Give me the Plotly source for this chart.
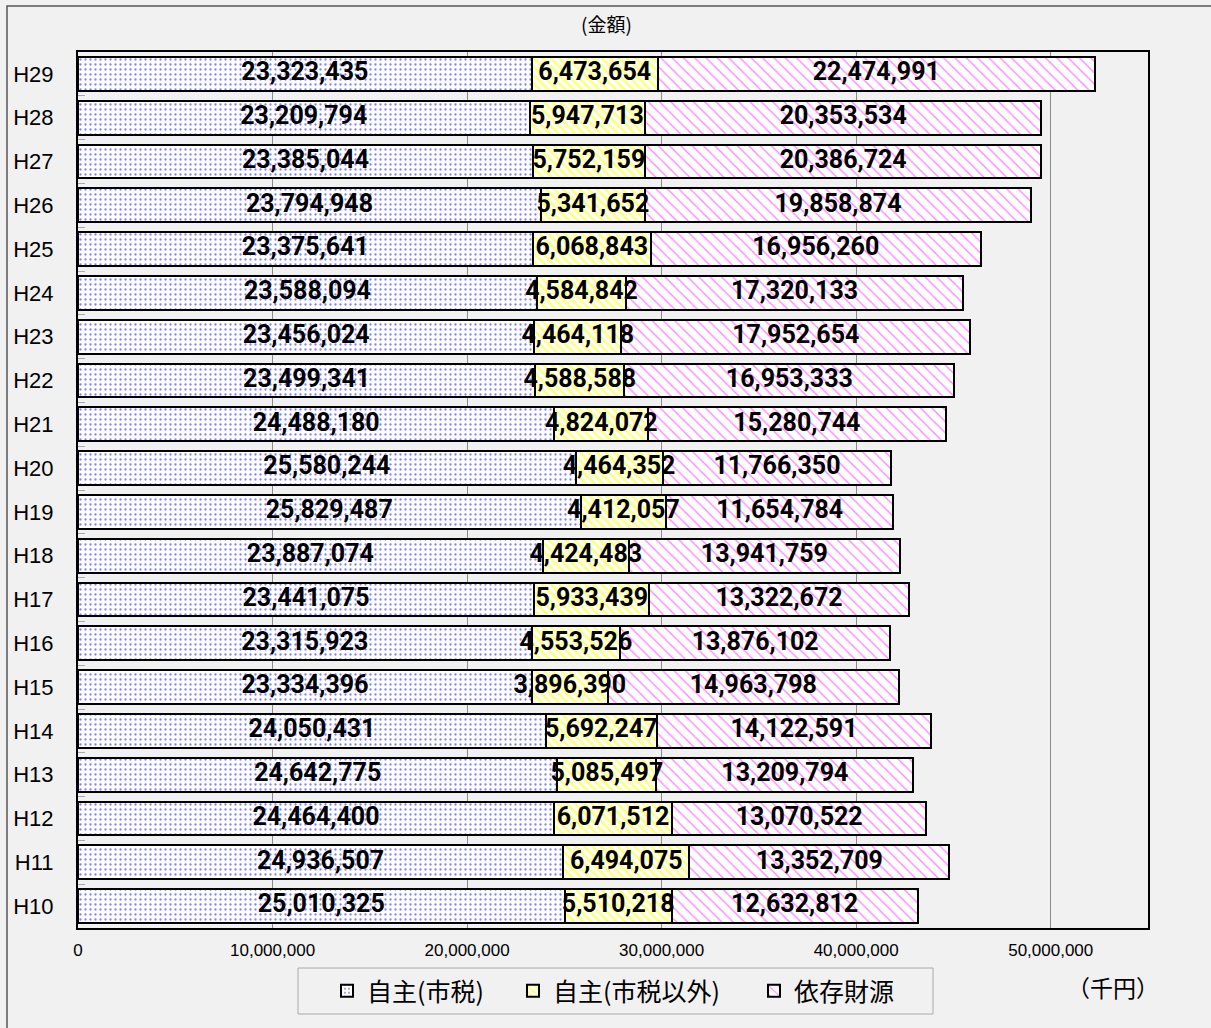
import plotly.graph_objects as go

years = ["H10", "H11", "H12", "H13", "H14", "H15", "H16", "H17", "H18", "H19",
         "H20", "H21", "H22", "H23", "H24", "H25", "H26", "H27", "H28", "H29"]
city_tax = [25010325, 24936507, 24464400, 24642775, 24050431, 23334396, 23315923,
            23441075, 23887074, 25829487, 25580244, 24488180, 23499341, 23456024,
            23588094, 23375641, 23794948, 23385044, 23209794, 23323435]
other_own = [5510218, 6494075, 6071512, 5085497, 5692247, 3896390, 4553526,
             5933439, 4424483, 4412057, 4464352, 4824072, 4588588, 4464118,
             4584842, 6068843, 5341652, 5752159, 5947713, 6473654]
dependent = [12632812, 13352709, 13070522, 13209794, 14122591, 14963798, 13876102,
             13322672, 13941759, 11654784, 11766350, 15280744, 16953333, 17952654,
             17320133, 16956260, 19858874, 20386724, 20353534, 22474991]
series_names = ["自主(市税)", "自主(市税以外)", "依存財源"]
x_ticks = [0, 10000000, 20000000, 30000000, 40000000, 50000000]

W, H = 1211, 1028
PL, PR, PT, PB = 78, 1148, 52, 928          # plot area in page pixels
L, T, R, B = PL, PT, W - PR, H - PB
pw, ph = PR - PL, PB - PT

def px_x(p):
    return (p - PL) / pw

def px_y(p):
    return (PB - p) / ph

BG = "#f1f1f1"
fig = go.Figure()
series = [city_tax, other_own, dependent]
patterns = [
    dict(shape=".", fgcolor="#0000ff", bgcolor="white", size=5, solidity=0.17),
    dict(shape="\\", fgcolor="#ffff00", bgcolor="white", size=6, solidity=0.45),
    dict(shape="\\", fgcolor="#ff00ff", bgcolor="white", size=8, solidity=0.16),
]
legend_ids = ["legend", "legend2", "legend3"]
for name, vals, pat, lg in zip(series_names, series, patterns, legend_ids):
    fig.add_trace(go.Bar(
        y=years, x=vals, name=name, orientation="h", legend=lg,
        marker=dict(color="white", pattern=pat, line=dict(color="black", width=2)),
        hoverinfo="x+name",
    ))

# centered value labels (full size, may overflow like the original)
base = [0] * len(years)
for vals in series:
    centers = [b + v / 2 for b, v in zip(base, vals)]
    fig.add_trace(go.Scatter(
        x=centers, y=years, mode="text",
        text=[f"{v:,}" for v in vals], textposition="middle center",
        textfont=dict(family="Roboto, Liberation Sans, sans-serif", size=25,
                      color="black", weight="bold"),
        showlegend=False, hoverinfo="skip", cliponaxis=False,
    ))
    base = [b + v for b, v in zip(base, vals)]

legend_common = dict(orientation="h", xanchor="left", y=px_y(991), yanchor="middle",
                     borderwidth=0, bgcolor="rgba(0,0,0,0)", itemwidth=30,
                     font=dict(family="Noto Sans CJK JP, sans-serif", size=25))

fig.update_layout(
    width=W, height=H,
    margin=dict(l=L, r=R, t=T, b=B, autoexpand=False),
    paper_bgcolor=BG, plot_bgcolor=BG,
    barmode="stack", bargap=0.23,
    font=dict(family="Liberation Sans, Arial, sans-serif", color="black"),
    xaxis=dict(range=[0, 55000000], tickvals=x_ticks,
               ticktext=[f"{v:,}" for v in x_ticks],
               tickfont=dict(size=17), showgrid=True, gridcolor="#8a8a8a", gridwidth=1,
               zeroline=False, showline=True, linecolor="black", linewidth=2, mirror=True,
               ticks="", tickangle=0, ticklabelstandoff=6),
    yaxis=dict(categoryorder="array", categoryarray=years, range=[-0.5, len(years) - 0.5],
               tickfont=dict(size=22), showgrid=False, zeroline=False,
               showline=True, linecolor="black", linewidth=2, mirror=True,
               ticks="inside", tickson="boundaries", ticklen=7, tickcolor="#aaaaaa",
               ticklabelstandoff=18),
    legend=dict(x=px_x(327), **legend_common),
    legend2=dict(x=px_x(513), **legend_common),
    legend3=dict(x=px_x(754), **legend_common),
    showlegend=True,
)

fig.add_annotation(x=px_x(606), y=px_y(24), xref="paper", yref="paper",
                   xanchor="center", yanchor="middle",
                   text="(金額)", showarrow=False,
                   font=dict(family="Noto Sans CJK JP, sans-serif", size=19))
fig.add_annotation(x=px_x(1113), y=px_y(987), xref="paper", yref="paper",
                   xanchor="center", yanchor="middle",
                   text="（千円）", showarrow=False,
                   font=dict(family="Noto Sans CJK JP, sans-serif", size=23))
# legend frame
fig.add_shape(type="rect", xref="paper", yref="paper",
              x0=px_x(298), y0=px_y(1014), x1=px_x(933), y1=px_y(968),
              line=dict(color="#aaaaaa", width=1), fillcolor="rgba(0,0,0,0)", layer="below")
# outer chart frame
fig.add_shape(type="rect", xref="paper", yref="paper",
              x0=px_x(7), y0=px_y(1060), x1=px_x(1260), y1=px_y(6),
              line=dict(color="#555555", width=1.5), fillcolor="rgba(0,0,0,0)", layer="below")

fig.write_html("out.html",
               config={"displayModeBar": False},
               post_script="document.body.style.margin='0';"
                           "document.body.style.background='" + BG + "';")
